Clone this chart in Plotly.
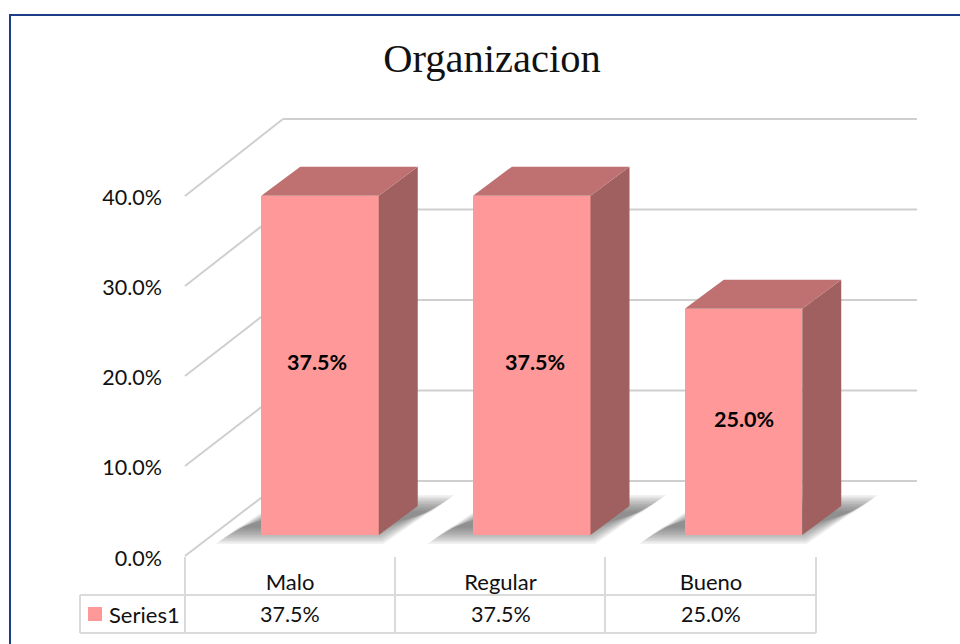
import plotly.graph_objects as go

categories = ["Malo", "Regular", "Bueno"]
values = [37.5, 37.5, 25.0]
axis_ticks = [0, 10, 20, 30, 40]
series_name = "Series1"
title_text = "Organizacion"

W, H = 960, 644
XU, YU = 211.75, 9.05      # px per category / per 1%
X0, Y0 = 320, 535          # px of first bar centre, px of value 0 in the bar plane
BAR_W = 117.5 / XU
DX, DY = 39 / XU, 29 / YU  # depth of a bar

FRONT = "#FF9999"
SIDE = "#A06060"
TOP = "#BF7070"
GRID = "#CFCFCF"
TABLE = "#DADADA"
INK = "#111111"
FRAME = "#1F3C88"
BODY = "Lato"


def dx(px):
    return (px - X0) / XU


def dy(py):
    return (Y0 - py) / YU


shapes = []

# frame (runs off the right and bottom of the picture)
shapes.append(dict(type="rect", xref="paper", yref="paper", x0=10 / W, x1=1.02,
                   y0=-0.02, y1=1 - 15 / H, line=dict(color=FRAME, width=2), layer="below"))

# walls
for t in axis_ticks:
    back = dy(481) + t
    front = dy(556) + t * 9.0 / YU
    shapes.append(dict(type="line", xref="x", yref="y", x0=dx(283), x1=dx(917), y0=back, y1=back,
                       line=dict(color=GRID, width=2), layer="below"))
    shapes.append(dict(type="line", xref="x", yref="y", x0=dx(185), x1=dx(283), y0=front, y1=back,
                       line=dict(color=GRID, width=2), layer="below"))

# floor shadows (nested translucent quads stand in for the blur)
for e in [12, 10.5, 9, 7.5, 6, 4.5, 3, 1.5, 0, -1.5, -3, -4.5]:
    for i in range(len(values)):
        L = i - BAR_W / 2
        R = i + BAR_W / 2
        ex = e * 1.3 / XU
        ey = e / YU
        xs = [L - 30 / XU - ex, R + ex * 0.3, R + 60 / XU + ex, L + 30 / XU - ex * 0.3]
        ys = [dy(532) - ey, dy(532) - ey, dy(507) + ey, dy(507) + ey]
        path = "M %f %f L %f %f L %f %f L %f %f Z" % (xs[0], ys[0], xs[1], ys[1], xs[2], ys[2], xs[3], ys[3])
        shapes.append(dict(type="path", xref="x", yref="y", path=path, line=dict(width=0),
                           fillcolor="rgba(70,70,70,0.07)", layer="below"))

# table lines
for px in [185, 395, 605, 816]:
    shapes.append(dict(type="line", xref="paper", yref="paper", x0=px / W, x1=px / W,
                       y0=1 - 557 / H, y1=1 - 633 / H, line=dict(color=TABLE, width=2)))
shapes.append(dict(type="line", xref="paper", yref="paper", x0=80 / W, x1=80 / W,
                   y0=1 - 595 / H, y1=1 - 633 / H, line=dict(color=TABLE, width=2)))
for py in [595, 633]:
    shapes.append(dict(type="line", xref="paper", yref="paper", x0=80 / W, x1=816 / W,
                       y0=1 - py / H, y1=1 - py / H, line=dict(color=TABLE, width=2)))
# legend key in the table
shapes.append(dict(type="rect", xref="paper", yref="paper", x0=88 / W, x1=102 / W,
                   y0=1 - 621 / H, y1=1 - 607 / H, fillcolor=FRONT, line=dict(width=0)))

fig = go.Figure()
fig.add_trace(go.Bar(
    x=list(range(len(values))), y=values, width=BAR_W, name=series_name,
    marker=dict(color=FRONT, line=dict(width=0)),
    hoverinfo="skip", showlegend=False,
))

for i, v in enumerate(values):
    L, R = i - BAR_W / 2, i + BAR_W / 2
    fig.add_trace(go.Scatter(x=[R, R + DX, R + DX, R, R], y=[0, DY, v + DY, v, 0], mode="lines",
                             fill="toself", fillcolor=SIDE, line=dict(width=0),
                             showlegend=False, hoverinfo="skip"))
    fig.add_trace(go.Scatter(x=[L, R, R + DX, L + DX, L], y=[v, v, v + DY, v + DY, v], mode="lines",
                             fill="toself", fillcolor=TOP, line=dict(width=0),
                             showlegend=False, hoverinfo="skip"))

# carrier for the front axis labels and the table's category row
fig.add_trace(go.Scatter(x=list(range(len(categories))), y=values, xaxis="x2", yaxis="y2", mode="markers",
                         marker=dict(opacity=0), showlegend=False, hoverinfo="skip"))

annotations = [
    dict(x=i, y=1 - 614 / H, xref="x2", yref="paper", text="%.1f%%" % v, showarrow=False,
         xanchor="center", yanchor="middle", font=dict(family=BODY, size=21.5, color=INK))
    for i, v in enumerate(values)
]
annotations += [
    dict(x=i, y=v / 2, xref="x", yref="y", yshift=3, xshift=[-3, 3, 0][i], text="<b>%.1f%%</b>" % v,
         showarrow=False, xanchor="center", yanchor="middle",
         font=dict(family=BODY, size=21.5, color="#000000"))
    for i, v in enumerate(values)
]
annotations.append(dict(x=107 / W, y=1 - 614 / H, xref="paper", yref="paper", text=series_name, showarrow=False,
                        xanchor="left", yanchor="middle", font=dict(family=BODY, size=22, color=INK)))

fig.update_layout(
    width=W, height=H, margin=dict(l=0, r=0, t=0, b=0), autosize=False,
    paper_bgcolor="white", plot_bgcolor="rgba(0,0,0,0)", bargap=0,
    title=dict(text=title_text, x=492 / W, xanchor="center", y=1 - 58 / H, yanchor="middle",
               font=dict(family="Liberation Serif", size=40.5, color="#111111")),
    xaxis=dict(range=[dx(0), dx(W)], visible=False, fixedrange=True),
    yaxis=dict(range=[dy(H), dy(0)], visible=False, fixedrange=True),
    xaxis2=dict(overlaying="x", range=[-290 / 210.5, 670 / 210.5], anchor="free", position=1 - 567 / H,
                side="bottom", tickmode="array", tickvals=list(range(len(categories))), ticktext=categories,
                showgrid=False, zeroline=False, showline=False, ticks="", tickfont=dict(family=BODY, size=22, color=INK)),
    yaxis2=dict(overlaying="y", range=[-86 / 9.025, 558 / 9.025], anchor="free", position=162 / W,
                side="left", tickmode="array", tickvals=axis_ticks, ticktext=["%.1f%%" % t for t in axis_ticks],
                showgrid=False, zeroline=False, showline=False, ticks="", tickfont=dict(family=BODY, size=21.5, color=INK)),
    shapes=shapes, annotations=annotations,
)

fig.write_html("out.html", config={"displayModeBar": False},
               post_script="document.body.style.margin='0';document.body.style.overflow='hidden';")
